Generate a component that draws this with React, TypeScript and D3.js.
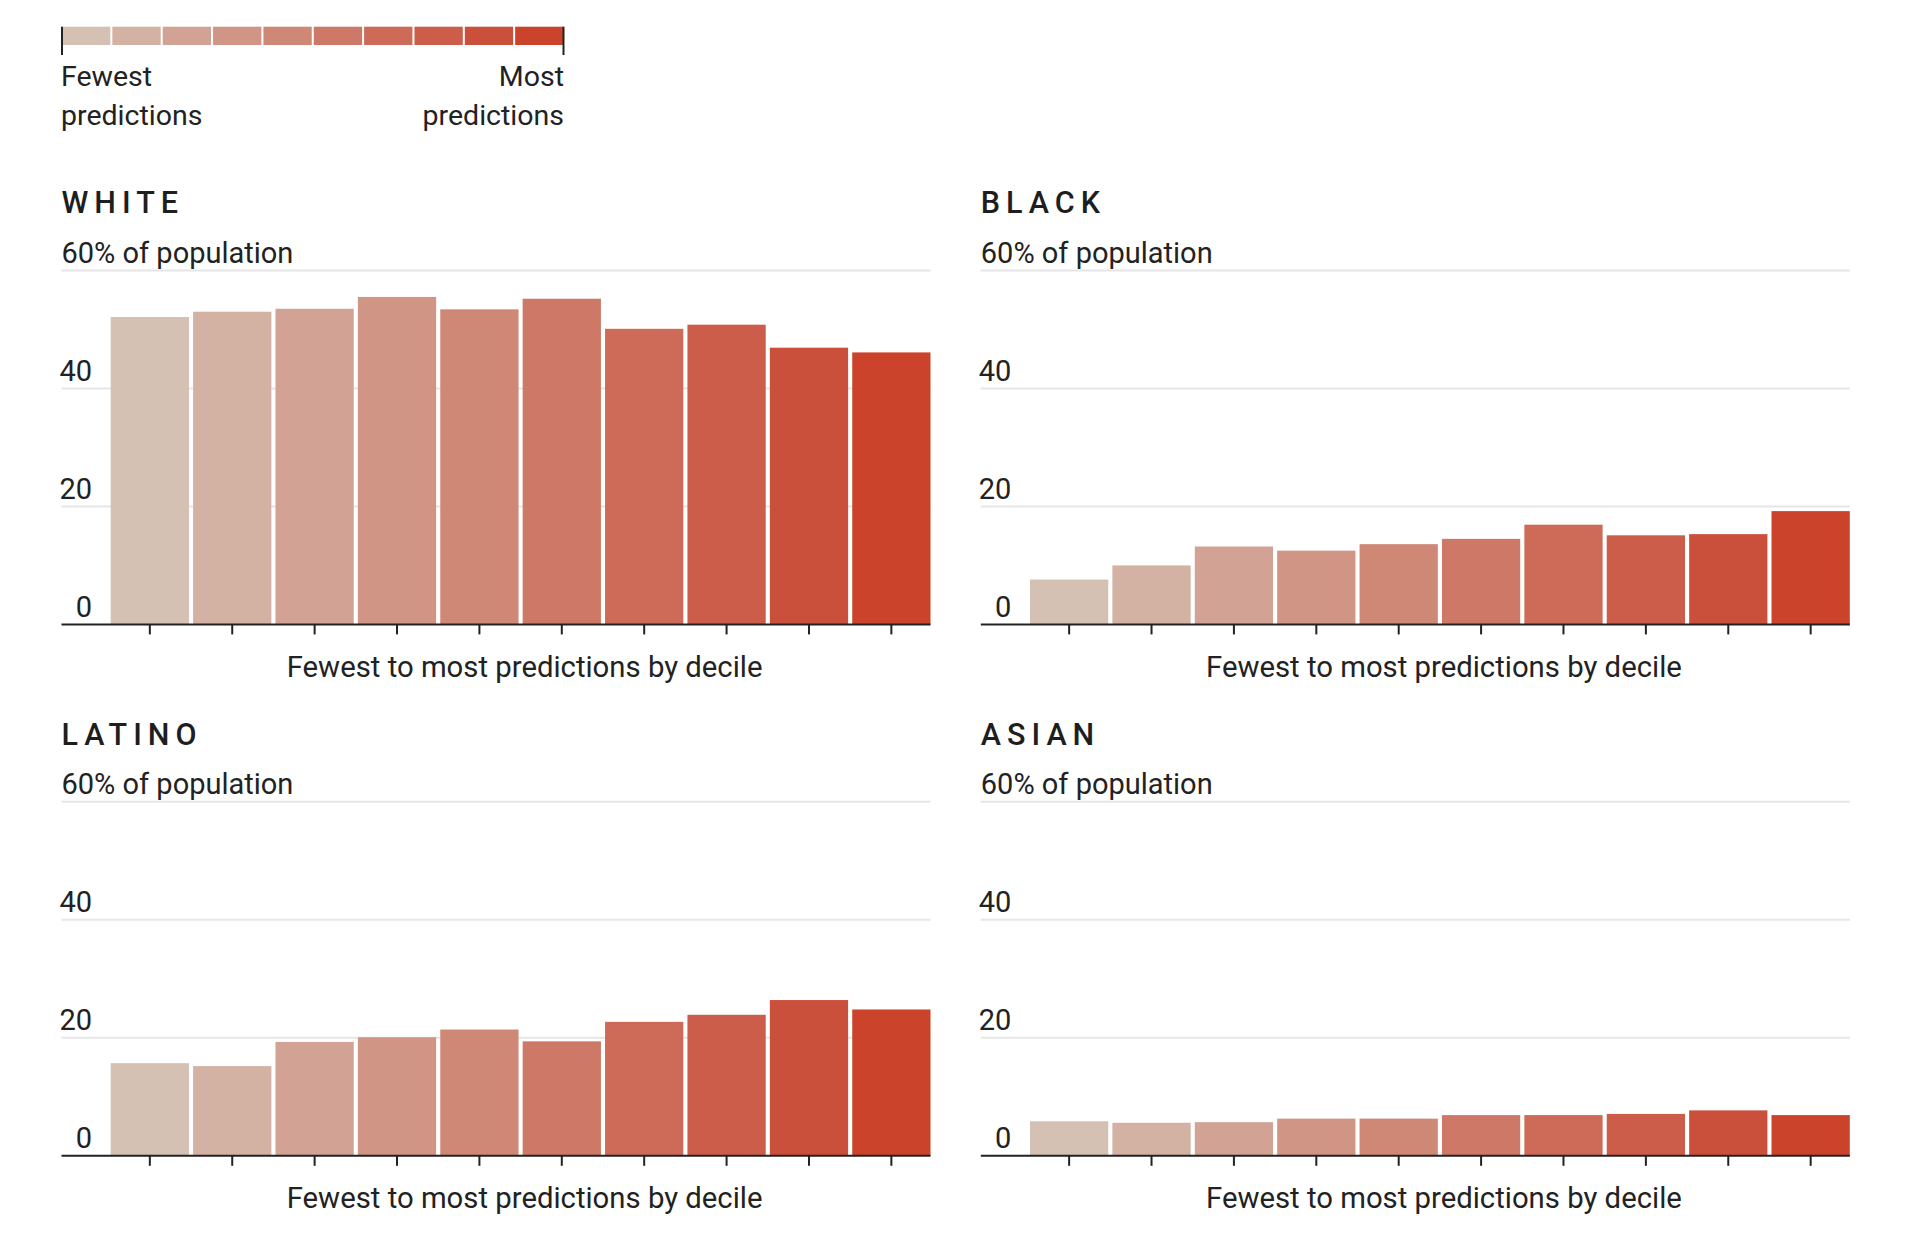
import React from "react";
import * as d3 from "d3";

const DECILES = ["1", "2", "3", "4", "5", "6", "7", "8", "9", "10"];
const WHITE = [52.1, 53.0, 53.5, 55.5, 53.4, 55.2, 50.1, 50.8, 46.9, 46.1];
const BLACK = [7.6, 10.0, 13.2, 12.5, 13.6, 14.5, 16.9, 15.1, 15.3, 19.2];
const LATINO = [15.7, 15.2, 19.3, 20.1, 21.4, 19.4, 22.7, 23.9, 26.4, 24.8];
const ASIAN = [5.85, 5.6, 5.7, 6.3, 6.3, 6.9, 6.9, 7.1, 7.7, 6.9];
const Y_TICKS = [0, 20, 40, 60];
const COLORS = [
  "#d5c0b4", "#d3b1a3", "#d2a394", "#d19585", "#cf8776",
  "#ce7967", "#cd6b58", "#cc5d4a", "#cb503b", "#cb432b",
];

const FONT = "Roboto, 'Noto Sans', sans-serif";
const TEXT = "#222";

const PANEL_W = 869;
const PLOT_H = 354;
const BAR_OFFSET = 49.2;

type PanelProps = { title: string; values: number[]; x0: number; yTop: number };

function Panel({ title, values, x0, yTop }: PanelProps) {
  const x = d3
    .scaleBand<string>()
    .domain(DECILES)
    .range([x0 + BAR_OFFSET, x0 + PANEL_W])
    .paddingInner(0.05)
    .paddingOuter(0);
  const y = d3.scaleLinear().domain([0, 60]).range([yTop + PLOT_H, yTop]);
  const base = y(0);
  const center = (x0 + BAR_OFFSET + x0 + PANEL_W) / 2 + 4;
  return (
    <g>
      <text
        x={x0}
        y={yTop - 57}
        fontFamily={FONT}
        fontSize={30.5}
        fontWeight={500}
        letterSpacing={6}
        fill="#1e1e1e"
      >
        {title}
      </text>
      {Y_TICKS.filter((t) => t > 0).map((t) => (
        <line
          key={"g" + t}
          x1={x0}
          x2={x0 + PANEL_W}
          y1={y(t)}
          y2={y(t)}
          stroke="#e6e6e6"
          strokeWidth={2}
        />
      ))}
      {Y_TICKS.map((t) =>
        t === 60 ? (
          <text key={"l" + t} x={x0} y={y(t) - 7.5} fontFamily={FONT} fontSize={29} fill={TEXT}>
            60% of population
          </text>
        ) : (
          <text
            key={"l" + t}
            x={x0 + 30.5}
            y={y(t) - 7.5}
            textAnchor="end"
            fontFamily={FONT}
            fontSize={29}
            fill={TEXT}
          >
            {t}
          </text>
        )
      )}
      {values.map((v, i) => (
        <rect
          key={"b" + i}
          x={x(DECILES[i])}
          y={y(v)}
          width={x.bandwidth()}
          height={base - y(v)}
          fill={COLORS[i]}
        />
      ))}
      <line x1={x0} x2={x0 + PANEL_W} y1={base} y2={base} stroke="#222" strokeWidth={2} />
      {DECILES.map((d) => {
        const cx = (x(d) as number) + x.bandwidth() / 2;
        return <line key={"t" + d} x1={cx} x2={cx} y1={base} y2={base + 10} stroke="#222" strokeWidth={2} />;
      })}
      <text
        x={center}
        y={base + 52.5}
        textAnchor="middle"
        fontFamily={FONT}
        fontSize={29.3}
        fill={TEXT}
      >
        Fewest to most predictions by decile
      </text>
    </g>
  );
}

function Legend() {
  const lx = d3.scaleBand<string>().domain(DECILES).range([62, 563.5]).paddingInner(0.04);
  return (
    <g>
      {DECILES.map((d, i) => (
        <rect key={d} x={lx(d)} y={26.7} width={lx.bandwidth()} height={18.3} fill={COLORS[i]} />
      ))}
      <line x1={62} x2={62} y1={26.7} y2={55} stroke="#222" strokeWidth={2} />
      <line x1={563.5} x2={563.5} y1={26.7} y2={55} stroke="#222" strokeWidth={2} />
      <text x={61} y={86} fontFamily={FONT} fontSize={28.5} fill={TEXT}>Fewest</text>
      <text x={61} y={125} fontFamily={FONT} fontSize={28.5} fill={TEXT}>predictions</text>
      <text x={564} y={86} textAnchor="end" fontFamily={FONT} fontSize={28.5} fill={TEXT}>Most</text>
      <text x={564} y={125} textAnchor="end" fontFamily={FONT} fontSize={28.5} fill={TEXT}>predictions</text>
    </g>
  );
}

export default function App() {
  const leftX = 61.5;
  const rightX = 980.8;
  const topY = 270.4;
  const botY = 801.8;
  return (
    <svg
      width={1920}
      height={1243}
      style={{ position: "absolute", left: 0, top: 0, background: "#fff" }}
    >
      <Legend />
      <Panel title="WHITE" values={WHITE} x0={leftX} yTop={topY} />
      <Panel title="BLACK" values={BLACK} x0={rightX} yTop={topY} />
      <Panel title="LATINO" values={LATINO} x0={leftX} yTop={botY} />
      <Panel title="ASIAN" values={ASIAN} x0={rightX} yTop={botY} />
    </svg>
  );
}
